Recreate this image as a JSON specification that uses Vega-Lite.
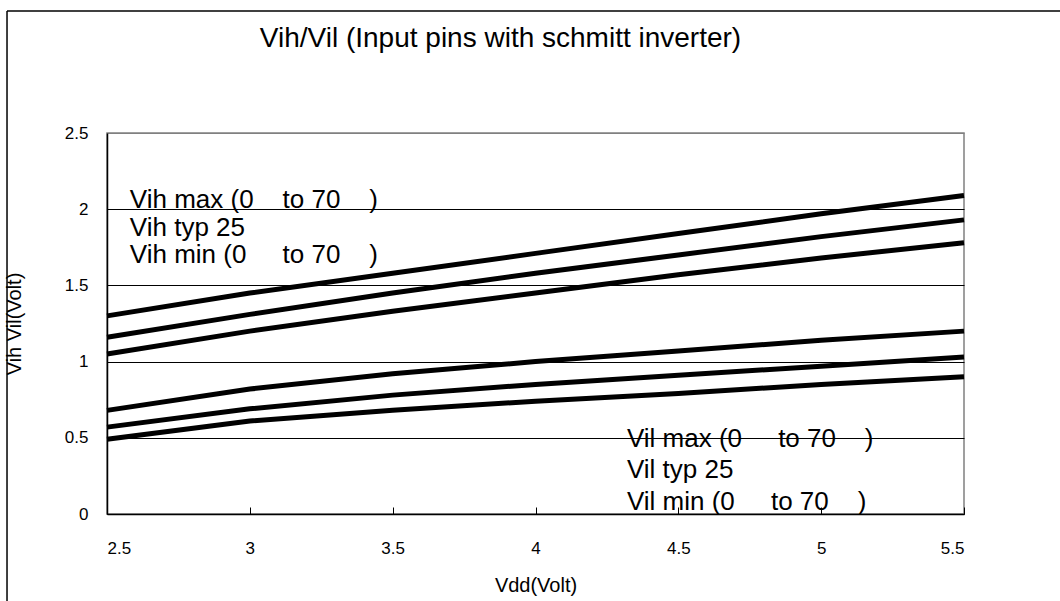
{
  "$schema": "https://vega.github.io/schema/vega-lite/v6.json",
  "width": 857,
  "height": 381,
  "autosize": "none",
  "padding": {"left": 107, "top": 133, "right": 96, "bottom": 87},
  "background": "white",
  "title": {
    "text": "Vih/Vil (Input pins with schmitt inverter)",
    "font": "Liberation Sans",
    "fontSize": 28,
    "fontWeight": "normal",
    "color": "black",
    "anchor": "middle",
    "frame": "group",
    "dx": -35,
    "offset": -43
  },
  "config": {
    "view": {"stroke": "#808080", "strokeWidth": 1.5},
    "font": "Liberation Sans",
    "axis": {
      "labelFont": "Liberation Sans",
      "titleFont": "Liberation Sans",
      "labelColor": "black",
      "titleColor": "black",
      "labelFontSize": 17,
      "titleFontSize": 20,
      "titleFontWeight": "normal",
      "domainColor": "black",
      "domainWidth": 1.5,
      "tickColor": "black"
    }
  },
  "datasets": {
    "series": [
      {"series": "Vih max", "vdd": 2.5, "v": 1.30},
      {"series": "Vih max", "vdd": 3.0, "v": 1.45},
      {"series": "Vih max", "vdd": 3.5, "v": 1.58},
      {"series": "Vih max", "vdd": 4.0, "v": 1.71},
      {"series": "Vih max", "vdd": 4.5, "v": 1.84},
      {"series": "Vih max", "vdd": 5.0, "v": 1.97},
      {"series": "Vih max", "vdd": 5.5, "v": 2.09},
      {"series": "Vih typ", "vdd": 2.5, "v": 1.16},
      {"series": "Vih typ", "vdd": 3.0, "v": 1.31},
      {"series": "Vih typ", "vdd": 3.5, "v": 1.45},
      {"series": "Vih typ", "vdd": 4.0, "v": 1.58},
      {"series": "Vih typ", "vdd": 4.5, "v": 1.70},
      {"series": "Vih typ", "vdd": 5.0, "v": 1.82},
      {"series": "Vih typ", "vdd": 5.5, "v": 1.93},
      {"series": "Vih min", "vdd": 2.5, "v": 1.05},
      {"series": "Vih min", "vdd": 3.0, "v": 1.20},
      {"series": "Vih min", "vdd": 3.5, "v": 1.33},
      {"series": "Vih min", "vdd": 4.0, "v": 1.45},
      {"series": "Vih min", "vdd": 4.5, "v": 1.57},
      {"series": "Vih min", "vdd": 5.0, "v": 1.68},
      {"series": "Vih min", "vdd": 5.5, "v": 1.78},
      {"series": "Vil max", "vdd": 2.5, "v": 0.68},
      {"series": "Vil max", "vdd": 3.0, "v": 0.82},
      {"series": "Vil max", "vdd": 3.5, "v": 0.92},
      {"series": "Vil max", "vdd": 4.0, "v": 1.00},
      {"series": "Vil max", "vdd": 4.5, "v": 1.07},
      {"series": "Vil max", "vdd": 5.0, "v": 1.14},
      {"series": "Vil max", "vdd": 5.5, "v": 1.20},
      {"series": "Vil typ", "vdd": 2.5, "v": 0.57},
      {"series": "Vil typ", "vdd": 3.0, "v": 0.69},
      {"series": "Vil typ", "vdd": 3.5, "v": 0.78},
      {"series": "Vil typ", "vdd": 4.0, "v": 0.85},
      {"series": "Vil typ", "vdd": 4.5, "v": 0.91},
      {"series": "Vil typ", "vdd": 5.0, "v": 0.97},
      {"series": "Vil typ", "vdd": 5.5, "v": 1.03},
      {"series": "Vil min", "vdd": 2.5, "v": 0.49},
      {"series": "Vil min", "vdd": 3.0, "v": 0.61},
      {"series": "Vil min", "vdd": 3.5, "v": 0.68},
      {"series": "Vil min", "vdd": 4.0, "v": 0.74},
      {"series": "Vil min", "vdd": 4.5, "v": 0.79},
      {"series": "Vil min", "vdd": 5.0, "v": 0.85},
      {"series": "Vil min", "vdd": 5.5, "v": 0.90}
    ],
    "labels": [
      {"label": "Vih max (0\u00a0\u00a0\u00a0\u00a0to 70\u00a0\u00a0\u00a0\u00a0)", "lx": 2.58, "ly": 2.008},
      {"label": "Vih typ 25", "lx": 2.58, "ly": 1.827},
      {"label": "Vih min (0\u00a0\u00a0\u00a0\u00a0\u00a0to 70\u00a0\u00a0\u00a0\u00a0)", "lx": 2.58, "ly": 1.645},
      {"label": "Vil max (0\u00a0\u00a0\u00a0\u00a0\u00a0to 70\u00a0\u00a0\u00a0\u00a0)", "lx": 4.32, "ly": 0.442},
      {"label": "Vil typ 25", "lx": 4.32, "ly": 0.234},
      {"label": "Vil min (0\u00a0\u00a0\u00a0\u00a0\u00a0to 70\u00a0\u00a0\u00a0\u00a0)", "lx": 4.32, "ly": 0.026}
    ]
  },
  "layer": [
    {
      "data": {"name": "series"},
      "mark": {"type": "line", "color": "black", "strokeWidth": 5, "strokeCap": "butt"},
      "encoding": {
        "x": {
          "field": "vdd", "type": "quantitative",
          "scale": {"domain": [2.5, 5.5], "nice": false, "zero": false},
          "axis": {
            "title": "Vdd(Volt)",
            "values": [2.5, 3, 3.5, 4, 4.5, 5, 5.5],
            "format": "~g",
            "grid": false,
            "tickSize": -7,
            "labelPadding": 33,
            "titlePadding": 19
          }
        },
        "y": {
          "field": "v", "type": "quantitative",
          "scale": {"domain": [0, 2.5], "nice": false},
          "axis": {
            "title": "Vih Vil(Volt)",
            "values": [0, 0.5, 1, 1.5, 2, 2.5],
            "format": "~g",
            "grid": true,
            "gridColor": {"condition": {"test": "datum.value == 2.5", "value": "#808080"}, "value": "black"},
            "gridWidth": 1,
            "gridOpacity": 1,
            "ticks": false,
            "labelPadding": 19,
            "titlePadding": 40
          }
        },
        "detail": {"field": "series"}
      }
    },
    {
      "data": {"name": "labels"},
      "mark": {"type": "text", "align": "left", "baseline": "alphabetic", "fontSize": 26, "font": "Liberation Sans", "color": "black"},
      "encoding": {
        "x": {"field": "lx", "type": "quantitative", "scale": {"domain": [2.5, 5.5], "nice": false, "zero": false}},
        "y": {"field": "ly", "type": "quantitative", "scale": {"domain": [0, 2.5], "nice": false}},
        "text": {"field": "label"}
      }
    },
    {
      "data": {"values": [{}]},
      "mark": {"type": "rule", "color": "black", "strokeWidth": 1.5, "clip": false},
      "encoding": {
        "x": {"datum": 2.15, "type": "quantitative", "scale": {"domain": [2.5, 5.5], "nice": false, "zero": false}},
        "y": {"datum": -0.6, "type": "quantitative", "scale": {"domain": [0, 2.5], "nice": false}},
        "y2": {"datum": 3.3}
      }
    },
    {
      "data": {"values": [{}]},
      "mark": {"type": "rule", "color": "black", "strokeWidth": 1.5, "clip": false},
      "encoding": {
        "x": {"datum": 2.15, "type": "quantitative", "scale": {"domain": [2.5, 5.5], "nice": false, "zero": false}},
        "x2": {"datum": 5.85},
        "y": {"datum": 3.3, "type": "quantitative", "scale": {"domain": [0, 2.5], "nice": false}}
      }
    }
  ]
}
